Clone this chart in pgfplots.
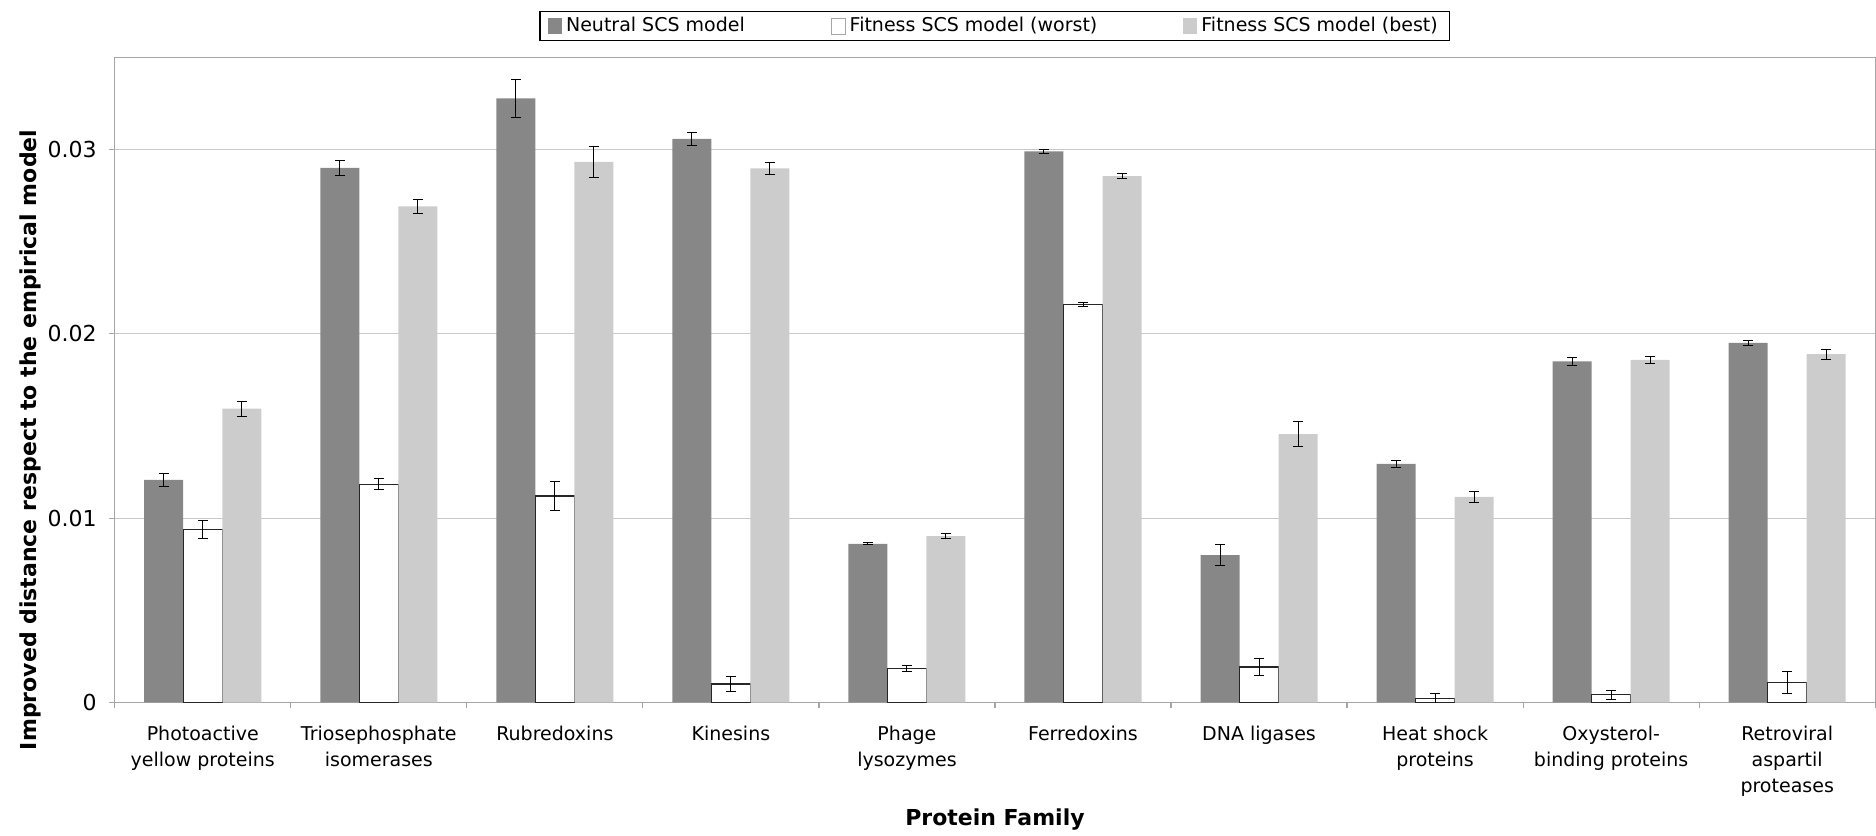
\documentclass[border=0pt]{standalone}
\usepackage{fontspec}
\setmainfont{DejaVu Sans}
\usepackage{pgfplots}
\pgfplotsset{compat=1.18}
\definecolor{darkbar}{HTML}{878787}
\definecolor{lightbar}{HTML}{CCCCCC}
\definecolor{axgray}{HTML}{A6A6A6}
\definecolor{gridgray}{HTML}{C8C8C8}
\pgfplotsset{errs/.style={error bars/y dir=both, error bars/y explicit,
  error bars/error bar style={black, line width=0.5pt},
  error bars/error mark options={rotate=90, black, mark size=2.5pt, line width=0.5pt}}}
\begin{document}
\begin{tikzpicture}
\begin{axis}[
  name=ax,
  scale only axis, width=880pt, height=322.5pt,
  xmin=-0.5, xmax=9.5, ymin=0, ymax=0.035,
  ybar=0pt, bar width=19.5pt,
  axis line style={axgray, line width=0.6pt},
  tick align=outside, tick pos=left,
  scaled y ticks=false,
  xtick={0,...,9},
  xticklabels={{Photoactive\\yellow proteins},{Triosephosphate\\isomerases},{Rubredoxins},{Kinesins},{Phage\\lysozymes},{Ferredoxins},{DNA ligases},{Heat shock\\proteins},{Oxysterol-\\binding proteins},{Retroviral\\aspartil\\proteases}},
  major x tick style={draw=none},
  minor xtick={-0.5,0.5,1.5,2.5,3.5,4.5,5.5,6.5,7.5,8.5,9.5},
  minor x tick style={axgray, line width=0.6pt},
  minor tick length=3pt,
  ytick={0,0.01,0.02,0.03}, yticklabels={0,0.01,0.02,0.03},
  major y tick style={axgray, line width=0.6pt}, major tick length=3pt,
  ymajorgrids, major grid style={gridgray, line width=0.6pt},
  xticklabel style={align=center, font=\fontsize{9.5}{12.85}\selectfont, yshift=-5.5pt},
  yticklabel style={font=\fontsize{11}{13}\selectfont, xshift=-2.5pt},
  xlabel={Protein Family},
  ylabel={Improved distance respect to the empirical model},
  xlabel style={font=\bfseries\fontsize{11}{13}\selectfont, at={(axis description cs:0.5,-0.182)}, anchor=center},
  ylabel style={font=\bfseries\fontsize{11}{13}\selectfont, at={(axis description cs:-0.0481,0.407)}, anchor=center},
  legend style={at={(axis description cs:0.5,1)}, anchor=south, yshift=8pt, draw=black, line width=0.6pt,
    font=\fontsize{9.5}{11}\selectfont, /tikz/every even column/.append style={column sep=41pt},
    inner xsep=4pt, inner ysep=1pt},
  legend columns=3,
  legend cell align=left,
]
\addplot[fill=darkbar, draw=none, errs,
  legend image code/.code={\fill[darkbar] (0pt,-4pt) rectangle (7pt,4pt);}] coordinates {
 (0,0.01208) +- (0,0.00034)
 (1,0.02900) +- (0,0.00041)
 (2,0.03277) +- (0,0.00101)
 (3,0.03057) +- (0,0.00033)
 (4,0.00861) +- (0,0.00006)
 (5,0.02990) +- (0,0.00010)
 (6,0.00800) +- (0,0.00059)
 (7,0.01294) +- (0,0.00019)
 (8,0.01850) +- (0,0.00021)
 (9,0.01951) +- (0,0.00014)
};
\addlegendentry{Neutral SCS model}
\addplot[fill=white, draw=black!85, line width=0.6pt, errs,
  legend image code/.code={\draw[fill=white, draw=black!35, line width=0.4pt] (0pt,-4pt) rectangle (7pt,4pt);}] coordinates {
 (0,0.00938) +- (0,0.00048)
 (1,0.01184) +- (0,0.00031)
 (2,0.01120) +- (0,0.00081)
 (3,0.00100) +- (0,0.00040)
 (4,0.00186) +- (0,0.00016)
 (5,0.02159) +- (0,0.000125)
 (6,0.00193) +- (0,0.00048)
 (7,0.00023) +- (0,0.00027)
 (8,0.00042) +- (0,0.00024)
 (9,0.00109) +- (0,0.00058)
};
\addlegendentry{Fitness SCS model (worst)}
\addplot[fill=lightbar, draw=none, errs,
  legend image code/.code={\fill[lightbar] (0pt,-4pt) rectangle (7pt,4pt);}] coordinates {
 (0,0.01594) +- (0,0.00040)
 (1,0.02692) +- (0,0.00039)
 (2,0.02933) +- (0,0.00084)
 (3,0.02898) +- (0,0.00032)
 (4,0.00902) +- (0,0.00015)
 (5,0.02855) +- (0,0.000125)
 (6,0.01456) +- (0,0.00068)
 (7,0.01116) +- (0,0.00031)
 (8,0.01859) +- (0,0.00018)
 (9,0.01890) +- (0,0.00027)
};
\addlegendentry{Fitness SCS model (best)}
\end{axis}
\pgfresetboundingbox
\path ([xshift=-57.35pt,yshift=-66.5pt]ax.south west) rectangle ([xshift=0.4pt,yshift=28.65pt]ax.north east);
\end{tikzpicture}
\end{document}
